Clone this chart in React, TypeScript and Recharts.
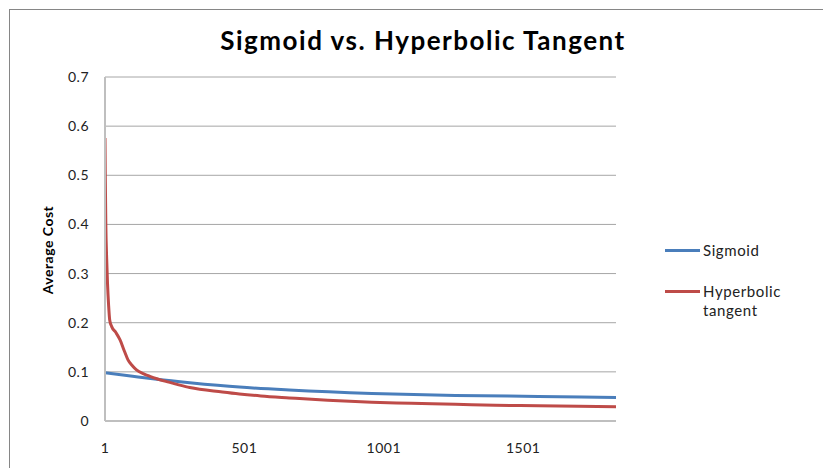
import React from 'react';
import { LineChart, Line, XAxis, YAxis, CartesianGrid } from 'recharts';

// iterations (x) and average cost readings for each activation function
const SIGMOID_ITER = [1, 100, 187, 305, 483, 662, 958, 1258, 1555, 1834];
const SIGMOID_COST = [0.098, 0.091, 0.085, 0.078, 0.069, 0.063, 0.056, 0.052, 0.05, 0.048];

const TANH_ITER = [
    1, 2, 4, 7, 10, 14, 18, 25, 40, 55, 70, 83, 100, 114, 140, 162, 187, 230, 269, 305,
    422, 483, 560, 662, 800, 958, 1100, 1258, 1400, 1555, 1700, 1834
];
const TANH_COST = [
    0.576, 0.5, 0.4, 0.33, 0.28, 0.235, 0.205, 0.192, 0.18, 0.165, 0.143, 0.125, 0.112, 0.104,
    0.096, 0.091, 0.086, 0.079, 0.073, 0.068, 0.059, 0.055, 0.051, 0.047, 0.042, 0.038, 0.036,
    0.034, 0.032, 0.031, 0.03, 0.029
];

const X_TICKS = [1, 501, 1001, 1501];
const Y_TICKS = [0, 0.1, 0.2, 0.3, 0.4, 0.5, 0.6, 0.7];

const BLUE = '#4a7ebb';
const RED = '#be4b48';
const FONT = 'Lato, "Open Sans", sans-serif';

const sigmoidData = SIGMOID_ITER.map((x, i) => ({ x, cost: SIGMOID_COST[i] }));
const tanhData = TANH_ITER.map((x, i) => ({ x, cost: TANH_COST[i] }));

const tickStyle = { fontSize: 14, fill: '#222', fontFamily: FONT, letterSpacing: 0.5 };
const legendText = { position: 'absolute' as const, left: 703, fontSize: 15, letterSpacing: 0.6, color: '#222', lineHeight: '20px', whiteSpace: 'nowrap' as const };

export default function App() {
    return (
        <div style={{ position: 'absolute', left: 0, top: 0, width: 823, height: 468, overflow: 'hidden', background: '#fff', fontFamily: FONT }}>
            <div style={{ position: 'absolute', left: 9, top: 9, width: 814, height: 459, borderTop: '1px solid #868686', borderLeft: '1px solid #868686' }} />
            <div style={{ position: 'absolute', left: 0, top: 24, width: 846, textAlign: 'center', fontSize: 26, fontWeight: 700, letterSpacing: 1.5, color: '#000' }}>
                Sigmoid vs. Hyperbolic Tangent
            </div>
            <div style={{ position: 'absolute', left: 47, top: 250, transform: 'translate(-50%, -50%) rotate(-90deg)', fontSize: 14, fontWeight: 700, letterSpacing: 0.5, whiteSpace: 'nowrap', color: '#000' }}>
                Average Cost
            </div>
            <div style={{ position: 'absolute', left: 0, top: 0 }}>
                <LineChart width={823} height={468} margin={{ top: 77, right: 207, bottom: 17, left: 45 }}>
                    <CartesianGrid vertical={false} stroke="#a6a6a6" strokeWidth={1} />
                    <XAxis
                        type="number"
                        dataKey="x"
                        domain={[1, 1834]}
                        ticks={X_TICKS}
                        allowDataOverflow
                        height={30}
                        tickLine={false}
                        tickSize={6}
                        tickMargin={16}
                        axisLine={{ stroke: '#bfbfbf', strokeWidth: 2 }}
                        tick={tickStyle}
                    />
                    <YAxis
                        type="number"
                        domain={[0, 0.7]}
                        ticks={Y_TICKS}
                        width={60}
                        tickLine={false}
                        tickSize={6}
                        tickMargin={10}
                        axisLine={{ stroke: '#bfbfbf', strokeWidth: 2 }}
                        tick={tickStyle}
                    />
                    <Line data={sigmoidData} dataKey="cost" type="monotone" stroke={BLUE} strokeWidth={3} dot={false} isAnimationActive={false} />
                    <Line data={tanhData} dataKey="cost" type="monotone" stroke={RED} strokeWidth={3} dot={false} isAnimationActive={false} />
                </LineChart>
            </div>
            <div style={{ position: 'absolute', left: 665, top: 249, width: 35, height: 3, background: BLUE }} />
            <div style={{ ...legendText, top: 240 }}>Sigmoid</div>
            <div style={{ position: 'absolute', left: 665, top: 290, width: 35, height: 3, background: RED }} />
            <div style={{ ...legendText, top: 281 }}>Hyperbolic</div>
            <div style={{ ...legendText, top: 300 }}>tangent</div>
        </div>
    );
}
